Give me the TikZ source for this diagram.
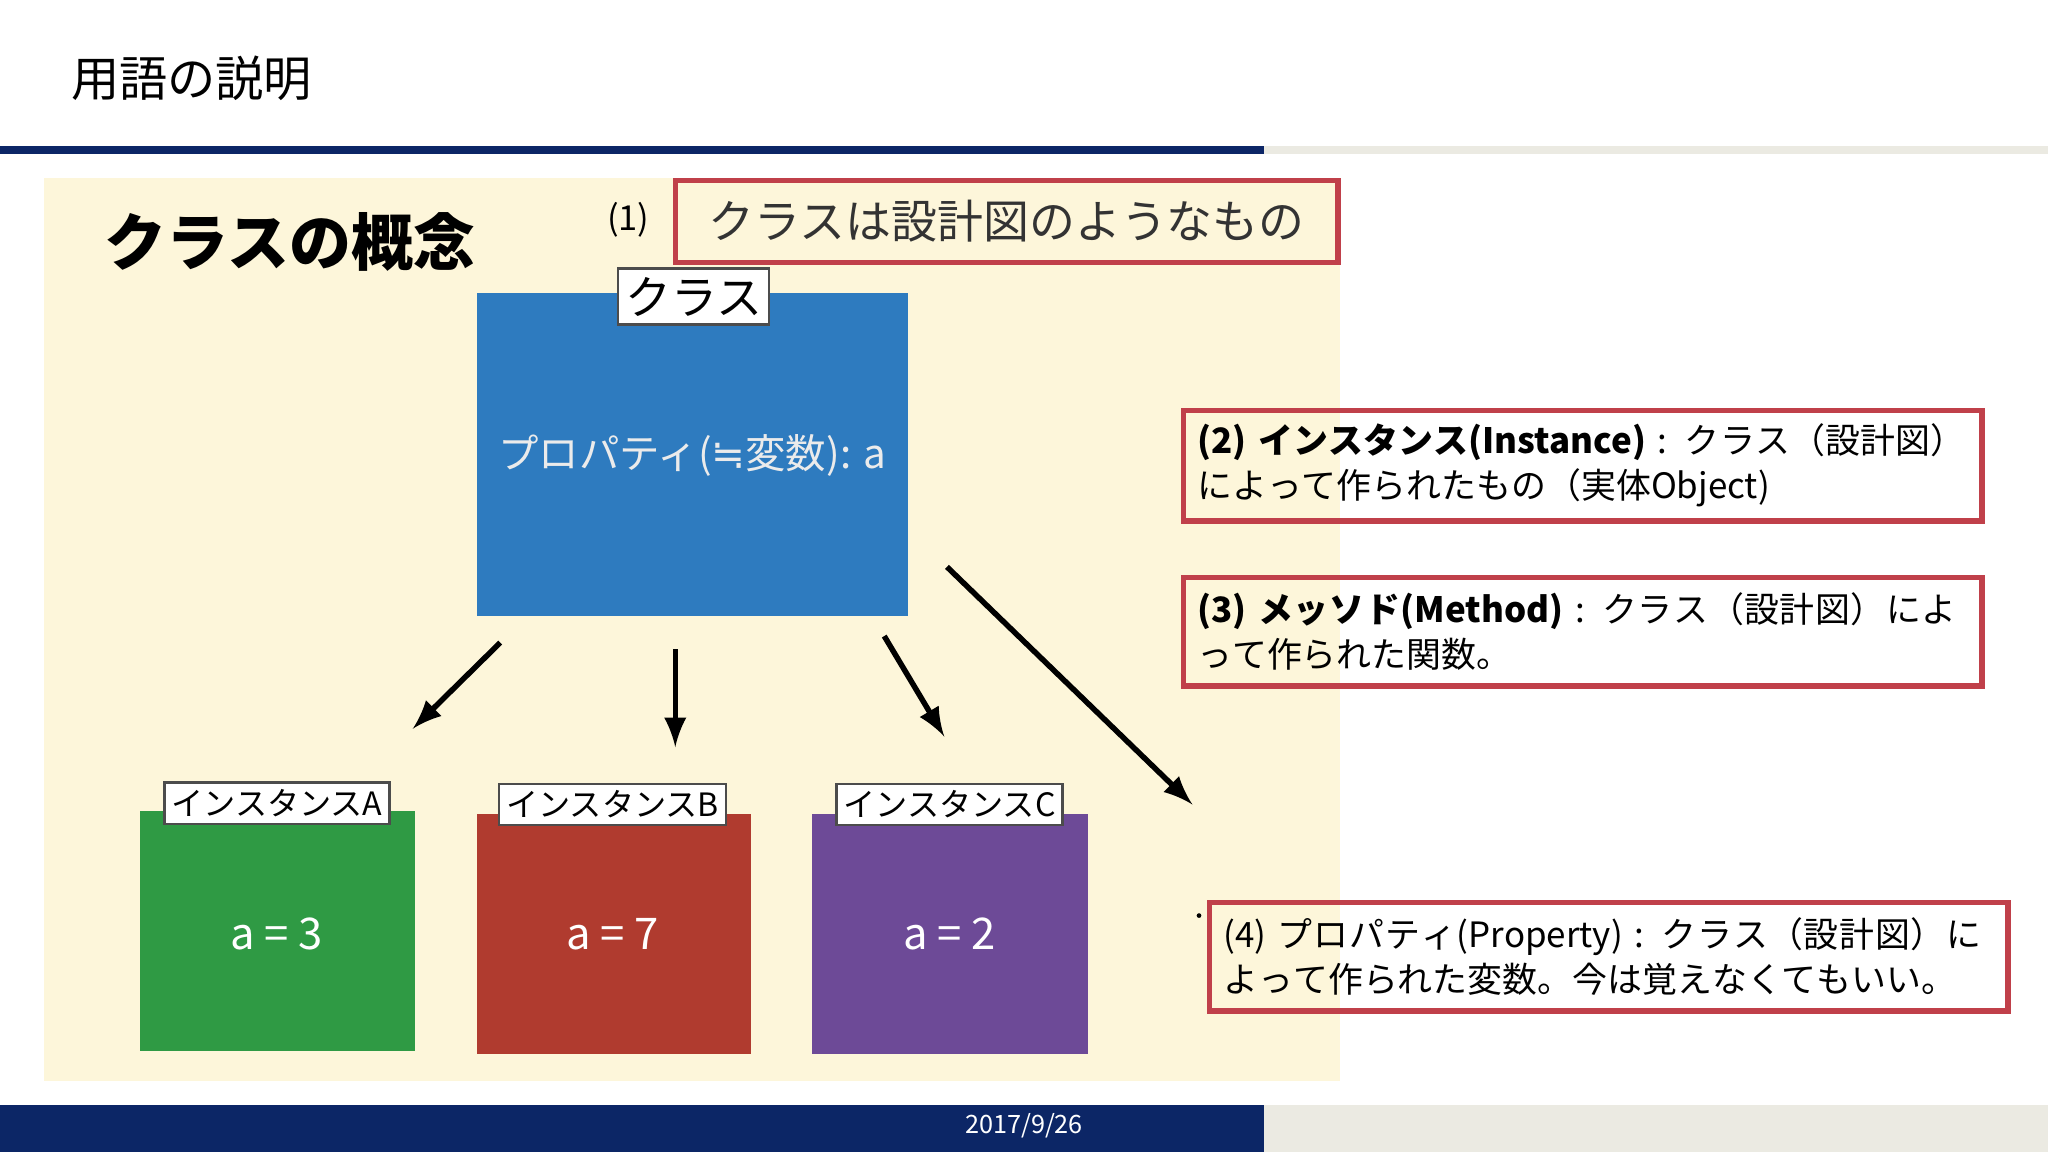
\documentclass[tikz,border=0pt]{standalone}
\usepackage{fontspec}
\setmainfont{Noto Sans CJK JP}
\newfontfamily\dejavu{DejaVu Sans}
\XeTeXlinebreaklocale "ja"
\XeTeXlinebreakskip=0pt plus 1pt
\definecolor{clsblue}{HTML}{2E7BBF}
\definecolor{insgreen}{HTML}{2F9A44}
\definecolor{insred}{HTML}{B03B2F}
\definecolor{inspurple}{HTML}{6D4A97}
\definecolor{navy}{HTML}{0C2666}
\definecolor{panel}{HTML}{FDF6DA}
\definecolor{boxred}{HTML}{C0404A}
\definecolor{greybar}{HTML}{EBEAE2}
\begin{document}
\begin{tikzpicture}[x=0.01cm,y=-0.01cm,
  redbox/.style={draw=boxred, line width=1.2pt},
  note/.style={redbox, anchor=north west, text width=5.9cm, align=left, inner sep=3pt, font=\fontsize{7.6}{9.8}\selectfont, minimum height=0.83cm},
  lbl/.style={draw=black!70, fill=white, line width=0.5pt, inner sep=1.5pt, font=\fontsize{7}{8}\selectfont},
  arr/.style={-latex, line width=1.2pt},
  val/.style={text=white, font=\fontsize{9.5}{12}\selectfont}]
\useasboundingbox (0,0) rectangle (1568,882);
\fill[white] (0,0) rectangle (1568,882);
\node[anchor=west, font=\fontsize{10.5}{13}\selectfont] (title) at (42,60) {用語の説明};
\fill[navy] (0,112) rectangle (968,118);
\fill[greybar] (968,112) rectangle (1568,118);
\fill[navy] (0,846) rectangle (968,882);
\fill[greybar] (968,846) rectangle (1568,882);
\node[text=white, font=\fontsize{5.5}{6}\selectfont] (date) at (784,862) {2017/9/26};
\fill[panel] (34,136) rectangle (1026,828);
\node[font=\bfseries\fontsize{13.5}{16}\selectfont] (concept) at (222,185) {クラスの概念};
\node[font=\fontsize{7.5}{9}\selectfont] (n1) at (481,168) {(1)};
\node[redbox, minimum width=5.07cm, minimum height=0.63cm, anchor=north west, text=black!80, font=\fontsize{10}{12}\selectfont] (c1) at (515,136) {クラスは設計図のようなもの};
% class
\fill[clsblue] (365,224) rectangle (695,472);
\node[val, font=\fontsize{8.8}{11}\selectfont, text=white!92!black] (prop) at (530,349) {プロパティ({\dejavu ≒}変数): a};
\node[lbl, minimum width=1.16cm, minimum height=0.43cm, font=\fontsize{10}{12}\selectfont] (cl) at (531,227) {クラス};
\coordinate (a1s) at (383,492); \coordinate (a1e) at (316,558);
\coordinate (a2s) at (517,497); \coordinate (a2e) at (517,572);
\coordinate (a3s) at (677,487); \coordinate (a3e) at (723,564);
\coordinate (a4s) at (725,434); \coordinate (a4e) at (913,616);
\draw[arr] (a1s) -- (a1e);
\draw[arr] (a2s) -- (a2e);
\draw[arr] (a3s) -- (a3e);
\draw[arr] (a4s) -- (a4e);
% instances
\fill[insgreen] (107,621) rectangle (318,805);
\node[val] (va) at (212,715) {a = 3};
\node[lbl, minimum width=1.71cm] (la) at (212,615) {インスタンスA};
\fill[insred] (365,623) rectangle (575,807);
\node[val] (vb) at (469,715) {a = 7};
\node[lbl, minimum width=1.68cm] (lb) at (469,616) {インスタンスB};
\fill[inspurple] (622,623) rectangle (833,807);
\node[val] (vc) at (727,715) {a = 2};
\node[lbl, minimum width=1.71cm] (lc) at (727,616) {インスタンスC};
% notes
\node[note] (n2) at (904,312) {\textbf{(2) インスタンス(Instance)} : クラス（設計図）によって作られたもの（実体Object)};
\node[note] (n3) at (904,440) {\textbf{(3) メッソド(Method)} : クラス（設計図）によって作られた関数。};
\node[note] (n4) at (924,689) {(4) プロパティ(Property) : クラス（設計図）によって作られた変数。今は覚えなくてもいい。};
\fill (918,701) circle (1.8);
\end{tikzpicture}
\end{document}
